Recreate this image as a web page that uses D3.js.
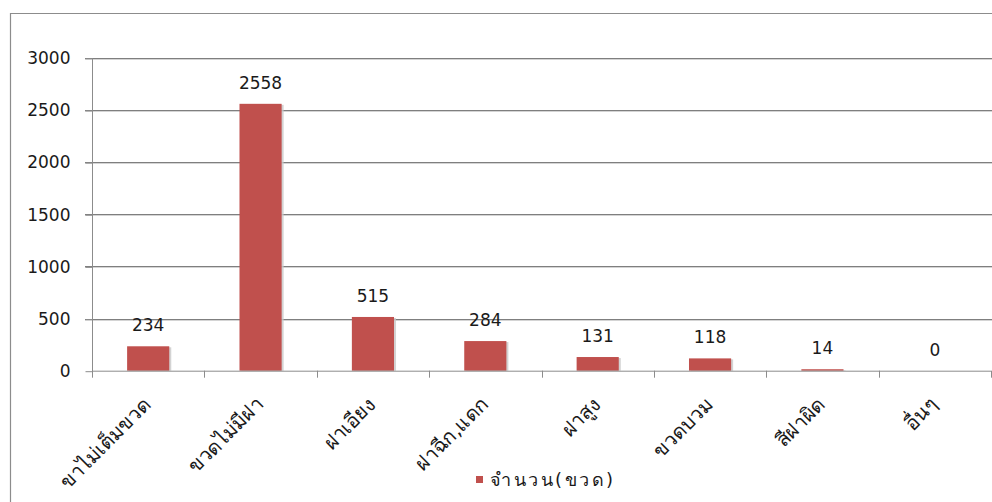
<!DOCTYPE html>
<html>
<head>
<meta charset="utf-8">
<script src="https://cdn.jsdelivr.net/npm/d3@7/dist/d3.min.js"></script>
<style>
  html, body { margin: 0; padding: 0; background: #fff; }
  svg { display: block; }
  text { font-family: "DejaVu Sans", "Noto Sans", sans-serif; }
</style>
</head>
<body>
<svg id="chart" width="992" height="502"></svg>
<script>
const categories = ["ขาไม่เต็มขวด", "ขวดไม่มีฝา", "ฝาเอียง", "ฝาฉีก,แดก", "ฝาสูง", "ขวดบวม", "สีฝาผิด", "อื่นๆ"];
const values = [234, 2558, 515, 284, 131, 118, 14, 0];
const yTicks = [0, 500, 1000, 1500, 2000, 2500, 3000];
const seriesName = "จำนวน(ขวด)";

const svg = d3.select("#chart");
const W = 992, H = 502;
const plot = { left: 92, right: 991, top: 57.7, bottom: 370.7 };

// outer chart border
svg.append("path")
  .attr("d", `M10.5,${H} L10.5,13.5 L${W},13.5`)
  .attr("fill", "none").attr("stroke", "#8c8c8c").attr("stroke-width", 1.2);

const x = d3.scaleBand().domain(categories).range([plot.left, plot.right]).paddingInner(0.625).paddingOuter(0.3125);
const y = d3.scaleLinear().domain([0, 3000]).range([plot.bottom, plot.top]);

// gridlines (with soft shadow)
const grid = svg.append("g");
yTicks.filter(t => t > 0).forEach(t => {
  grid.append("line").attr("x1", plot.left - 7).attr("x2", plot.right + 2)
    .attr("y1", Math.round(y(t)) + 1.5).attr("y2", Math.round(y(t)) + 1.5)
    .attr("stroke", "#d4d4d4").attr("stroke-width", 1);
  grid.append("line").attr("x1", plot.left - 7).attr("x2", plot.right + 2)
    .attr("y1", Math.round(y(t)) + 0.5).attr("y2", Math.round(y(t)) + 0.5)
    .attr("stroke", "#7f7f7f").attr("stroke-width", 1);
});

// y axis
const yAxis = d3.axisLeft(y).tickValues(yTicks).tickSize(7).tickPadding(15).tickFormat(d3.format("d"));
const gy = svg.append("g").attr("transform", `translate(${plot.left + 0.5},0.5)`).call(yAxis);
gy.select(".domain").attr("stroke", "#8c8c8c").attr("d", `M0,${y(3000)}V${y(0)}`);
gy.selectAll(".tick line").attr("stroke", "#8c8c8c");
gy.selectAll(".tick text").attr("fill", "#1a1a1a").style("font-size", "17px");

// bars shadow + bars
const bars = svg.append("g");
bars.selectAll("rect.shadow").data(values).join("rect").attr("class", "shadow")
  .attr("x", (d, i) => x(categories[i]) + 2)
  .attr("y", d => y(d) + 1)
  .attr("width", x.bandwidth())
  .attr("height", d => Math.max(0, y(0) - y(d) - 1))
  .attr("fill", "#c8c8c8").attr("opacity", 0.8);
bars.selectAll("rect.bar").data(values).join("rect").attr("class", "bar")
  .attr("x", (d, i) => x(categories[i]))
  .attr("y", d => y(d))
  .attr("width", x.bandwidth())
  .attr("height", d => y(0) - y(d))
  .attr("fill", "#c0504d");

// x axis
const xAxisG = svg.append("g").attr("transform", `translate(0,${plot.bottom})`);
xAxisG.append("line").attr("x1", plot.left).attr("x2", plot.right).attr("y1", 0.5).attr("y2", 0.5)
  .attr("stroke", "#8c8c8c");
const step = x.step();
const boundaries = d3.range(categories.length + 1).map(i => plot.left + i * step);
xAxisG.selectAll("line.tk").data(boundaries).join("line").attr("class", "tk")
  .attr("x1", d => Math.round(d) + 0.5).attr("x2", d => Math.round(d) + 0.5)
  .attr("y1", 0).attr("y2", 7).attr("stroke", "#8c8c8c");

// category labels rotated
svg.append("g").selectAll("text").data(categories).join("text")
  .attr("transform", d => `translate(${x(d) + x.bandwidth() / 2 + 4},${plot.bottom + 35}) rotate(-45)`)
  .attr("text-anchor", "end")
  .attr("fill", "#1a1a1a")
  .style("font-size", "20px")
  .text(d => d);

// value labels
svg.append("g").selectAll("text").data(values).join("text")
  .attr("x", (d, i) => x(categories[i]) + x.bandwidth() / 2)
  .attr("y", d => y(d) - 15)
  .attr("text-anchor", "middle")
  .attr("fill", "#1a1a1a")
  .style("font-size", "17px")
  .text(d => d);

// legend
const lg = svg.append("g");
lg.append("rect").attr("x", 476).attr("y", 476).attr("width", 7).attr("height", 7).attr("fill", "#c0504d");
lg.append("text").attr("x", 490).attr("y", 486).attr("fill", "#1a1a1a")
  .style("font-size", "18px").style("letter-spacing", "2.5px").text(seriesName);
</script>
</body>
</html>
